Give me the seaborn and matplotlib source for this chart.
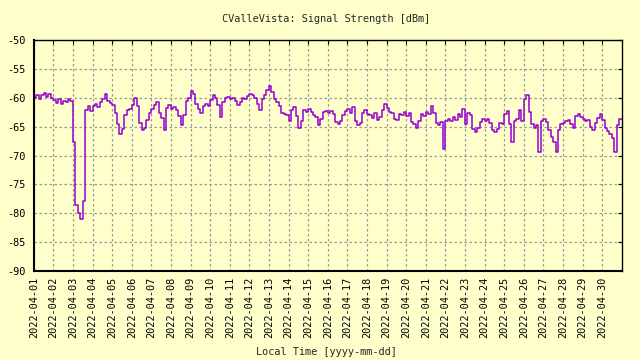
import numpy as np
import pandas as pd
import matplotlib
matplotlib.use("Agg")
import matplotlib.pyplot as plt
import matplotlib.dates as mdates
import seaborn as sns

# Signal strength [dBm], 3-hourly samples starting 2022-04-01 00:00
day01 = [-60.0, -59.6, -60.2, -59.5, -59.2, -59.9, -59.4, -60.1]
day02 = [-60.4, -60.9, -60.3, -61.0, -60.5, -60.8, -60.2, -60.6]
day03 = [-67.6, -78.6, -79.9, -81.0, -77.9, -62.2, -61.4, -62.3]
day04 = [-61.5, -61.0, -61.6, -60.8, -60.2, -59.3, -60.5, -60.9]
day05 = [-61.3, -62.6, -64.5, -66.2, -65.4, -63.0, -62.2, -61.9]
day06 = [-61.2, -60.0, -61.5, -64.3, -65.6, -65.2, -63.8, -62.6]
day07 = [-61.9, -61.2, -60.8, -62.7, -63.5, -65.5, -61.8, -61.2]
day08 = [-61.9, -61.6, -62.2, -63.2, -64.8, -63.0, -60.6, -60.0]
day09 = [-58.8, -59.3, -61.0, -62.0, -62.6, -61.4, -61.0, -61.4]
day10 = [-60.4, -59.6, -60.0, -61.2, -63.3, -60.7, -60.0, -59.8]
day11 = [-60.3, -60.0, -60.6, -61.2, -60.8, -60.0, -60.2, -59.7]
day12 = [-59.3, -59.6, -60.0, -61.0, -62.2, -60.3, -59.6, -58.6]
day13 = [-57.9, -59.0, -60.2, -60.8, -61.5, -62.6, -62.8, -63.0]
day14 = [-64.0, -62.2, -61.6, -63.2, -65.2, -64.0, -62.2, -62.4]
day15 = [-62.0, -62.5, -63.0, -63.3, -64.7, -63.6, -62.5, -62.3]
day16 = [-62.6, -62.3, -62.9, -64.2, -64.6, -64.0, -63.0, -62.3]
day17 = [-62.0, -62.6, -61.6, -64.0, -64.8, -64.3, -62.6, -62.2]
day18 = [-62.8, -63.0, -63.5, -62.6, -63.8, -63.4, -62.2, -61.0]
day19 = [-61.8, -62.5, -62.7, -63.6, -63.8, -62.8, -63.0, -62.4]
day20 = [-63.1, -62.7, -64.2, -64.6, -65.2, -64.0, -62.9, -63.2]
day21 = [-62.4, -62.8, -61.4, -62.6, -64.4, -64.8, -64.2, -68.8]
day22 = [-64.0, -63.6, -64.0, -63.4, -63.9, -62.8, -63.3, -61.9]
day23 = [-64.6, -62.6, -63.0, -65.4, -65.9, -65.2, -64.2, -63.6]
day24 = [-64.0, -63.7, -64.3, -65.5, -66.0, -65.4, -64.4, -64.6]
day25 = [-62.8, -62.3, -64.6, -67.6, -64.0, -63.6, -62.2, -64.0]
day26 = [-60.2, -59.6, -62.5, -64.6, -65.3, -64.8, -69.4, -64.0]
day27 = [-63.6, -64.2, -65.6, -66.8, -67.6, -69.4, -65.6, -64.6]
day28 = [-64.3, -64.0, -63.8, -64.6, -65.2, -63.2, -62.8, -63.3]
day29 = [-63.6, -64.0, -63.9, -65.0, -65.6, -64.3, -63.5, -62.9]
day30 = [-63.9, -65.3, -65.8, -66.3, -67.0, -69.4, -64.8, -63.6]

days = [day01, day02, day03, day04, day05, day06, day07, day08, day09, day10,
        day11, day12, day13, day14, day15, day16, day17, day18, day19, day20,
        day21, day22, day23, day24, day25, day26, day27, day28, day29, day30]
values = [v for d in days for v in d]
values.append(day30[-1])
times = pd.date_range("2022-04-01 00:00", periods=len(values), freq="3h")

y_ticks = [-50, -55, -60, -65, -70, -75, -80, -85, -90]
x_ticks = pd.date_range("2022-04-01", "2022-04-30", freq="D")
x_labels = [t.strftime("%Y-%m-%d") for t in x_ticks]

title = "CValleVista: Signal Strength [dBm]"
xlabel = "Local Time [yyyy-mm-dd]"

df = pd.DataFrame({"time": times, "dbm": values})

bg = "#FFFFCC"
sns.set_style("white")
plt.rcParams["font.family"] = ["DejaVu Sans Mono"]

fig = plt.figure(figsize=(6.4, 3.6), dpi=100, facecolor=bg)
ax = fig.add_axes([33.7/640, 1-271/360, (621.7-33.7)/640, (271-40)/360])
ax.set_facecolor(bg)

sns.lineplot(data=df, x="time", y="dbm", ax=ax, color="#9400D3",
             linewidth=1.1, drawstyle="steps-post")

ax.set_xlim(pd.Timestamp("2022-04-01"), pd.Timestamp("2022-05-01"))
ax.set_ylim(-90, -50)
ax.set_yticks(y_ticks)
ax.set_yticklabels([str(v) for v in y_ticks])
ax.set_xticks(x_ticks)
ax.set_xticklabels(x_labels, rotation=90, va="top", ha="center")
ax.set_xlabel("")
ax.set_ylabel("")

ax.grid(True, color="#999999", linestyle=(0, (2, 2)), linewidth=0.9)
ax.tick_params(axis="both", which="major", labelsize=7.4, colors="black",
               bottom=False, left=False, top=True, right=True,
               direction="in", length=3, width=0.8)
ax.tick_params(axis="x", pad=4)
ax.tick_params(axis="y", pad=5.5)
for s in ax.spines.values():
    s.set_color("black")
    s.set_linewidth(1.0)
ax.spines["left"].set_linewidth(1.5)
ax.spines["bottom"].set_linewidth(1.5)

fig.text(326/640, 1-19/360, title, ha="center", va="center", fontsize=7.4)
fig.text(326/640, 1-352/360, xlabel, ha="center", va="center", fontsize=7.4)

fig.savefig("out.png", dpi=100, facecolor=bg)
